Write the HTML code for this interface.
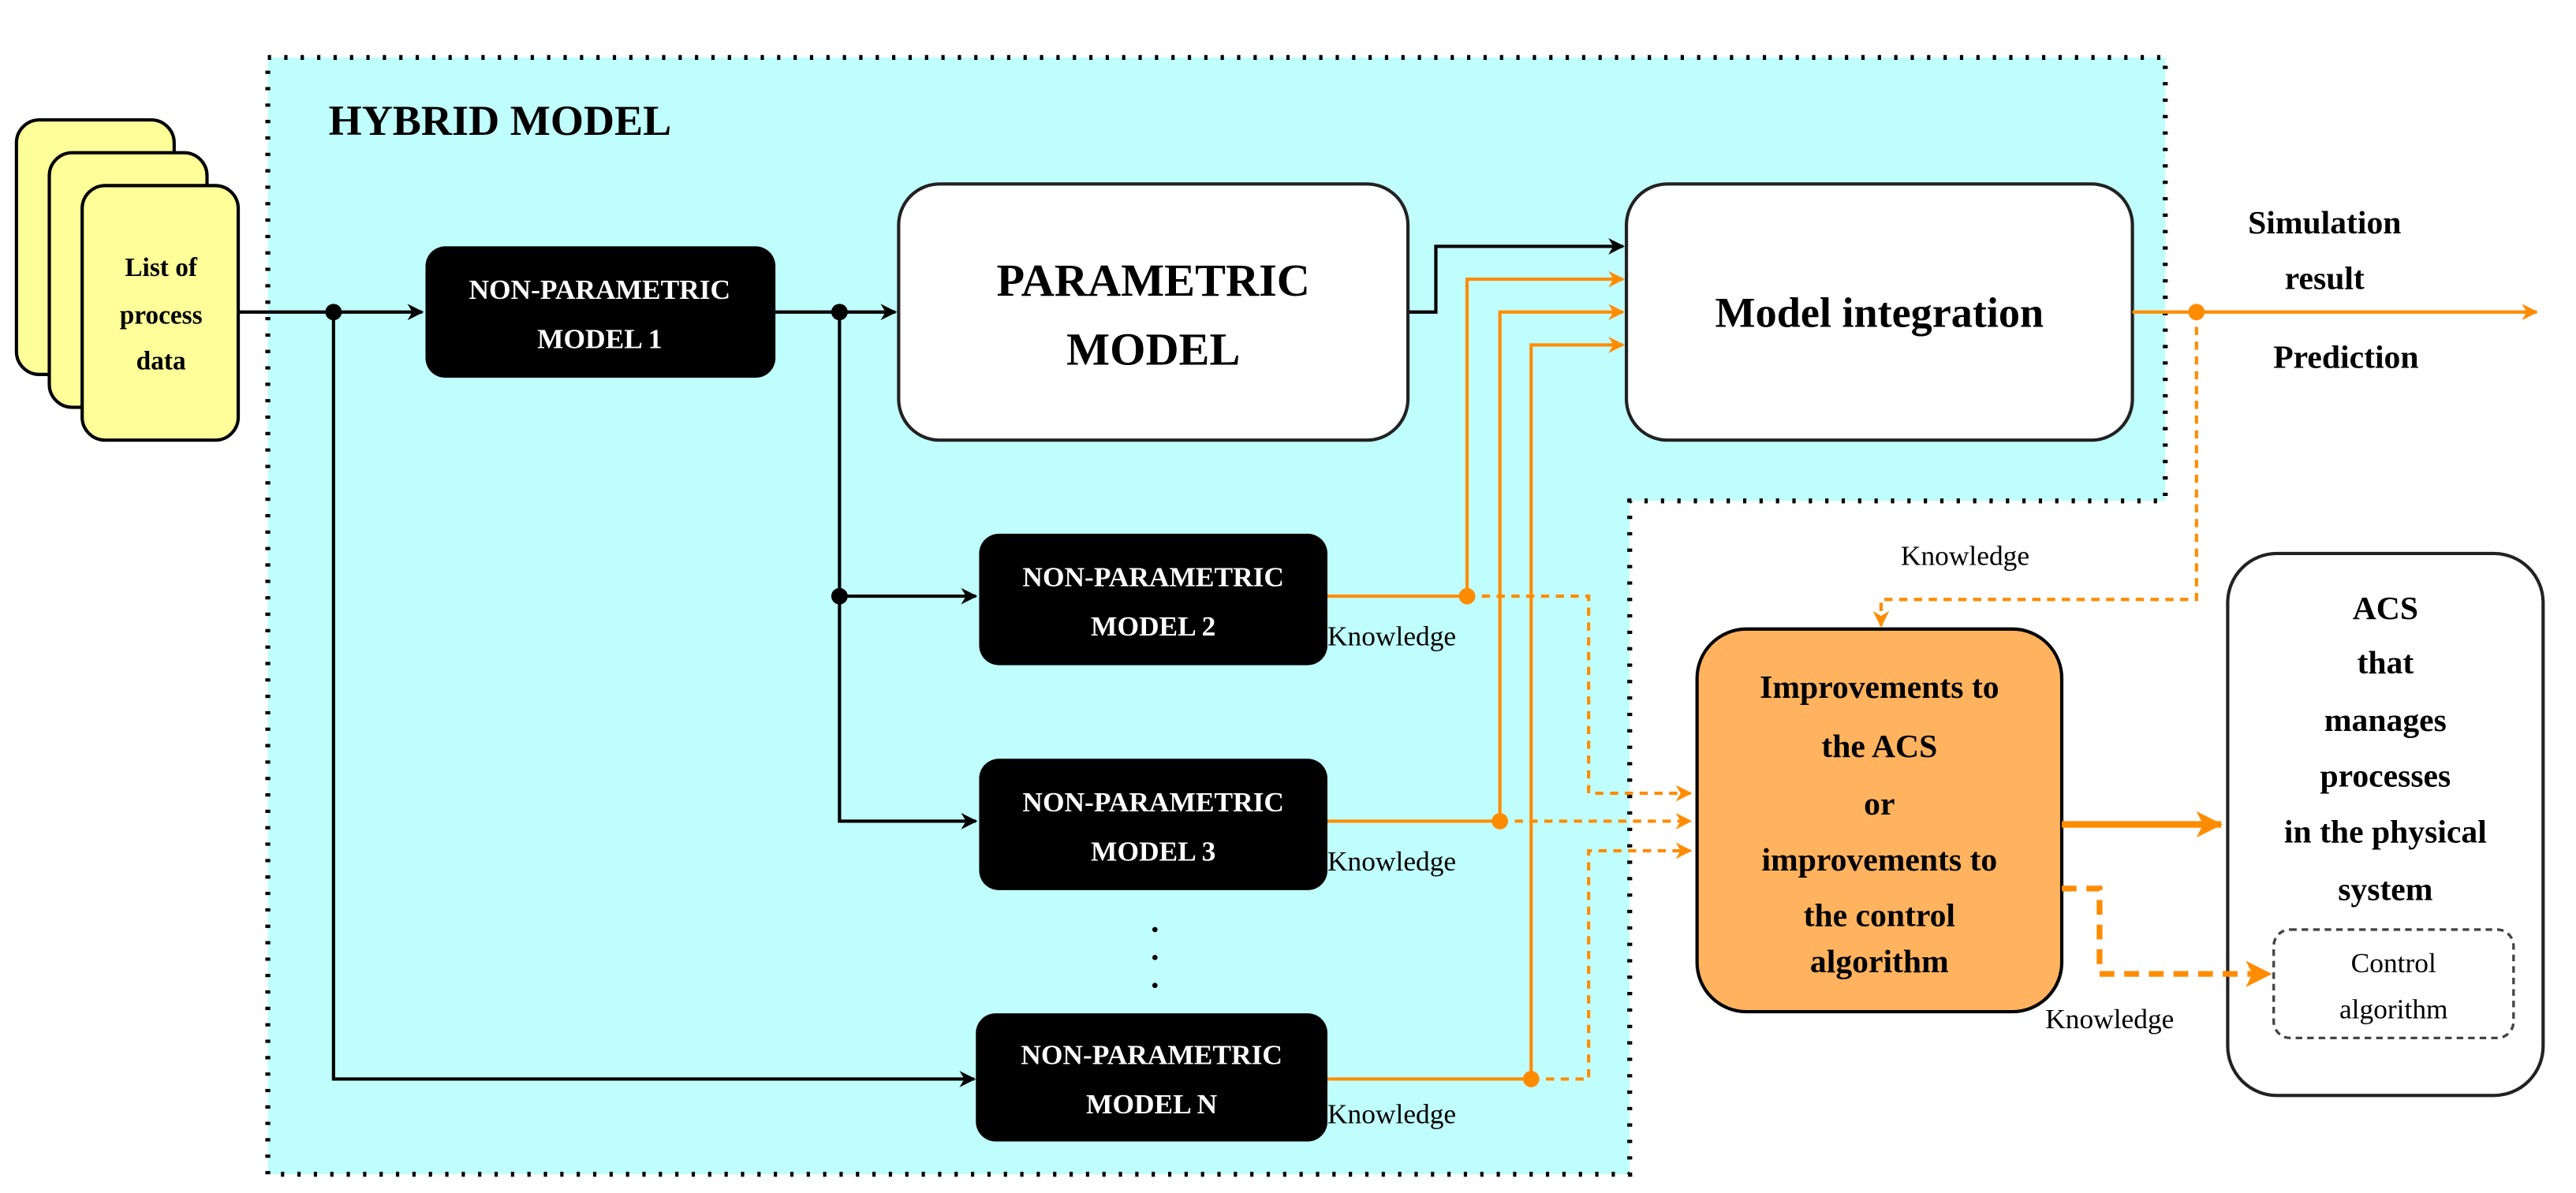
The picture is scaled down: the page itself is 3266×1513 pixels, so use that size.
<!DOCTYPE html>
<html><head><meta charset="utf-8"><style>
html,body{margin:0;padding:0;background:#fff;}
svg{display:block;}
svg text{font-family:"Liberation Serif","DejaVu Serif Condensed","DejaVu Serif",serif;}
</style></head><body>
<svg width="3266" height="1513" viewBox="0 0 1568 726.4" xmlns="http://www.w3.org/2000/svg">
<defs>
<marker id="ab" markerWidth="10" markerHeight="10" refX="9" refY="5" orient="auto" markerUnits="userSpaceOnUse"><path d="M0,0 L10,5 L0,10 L3,5 z" fill="#000"/></marker>
<marker id="ao" markerWidth="10" markerHeight="10" refX="9" refY="5" orient="auto" markerUnits="userSpaceOnUse"><path d="M0,0 L10,5 L0,10 L3,5 z" fill="#ff8c00"/></marker>
<marker id="aoL" markerWidth="16" markerHeight="16" refX="15" refY="8" orient="auto" markerUnits="userSpaceOnUse"><path d="M0,0 L16,8 L0,16 L4,8 z" fill="#ff8c00"/></marker>
</defs>
<path d="M163,35 H1318 V305 H992 V715 H163 Z" fill="#c0fefe" stroke="#000" stroke-width="3" stroke-dasharray="2,8"/>
<text x="200" y="82" font-size="26" font-weight="bold">HYBRID MODEL</text>
<rect x="10" y="73" width="96" height="155" rx="14" fill="#ffff99" stroke="#000" stroke-width="2"/>
<rect x="30" y="93" width="96" height="155" rx="14" fill="#ffff99" stroke="#000" stroke-width="2"/>
<rect x="50" y="113" width="95" height="155" rx="14" fill="#ffff99" stroke="#000" stroke-width="2"/>
<g font-size="16" font-weight="bold" text-anchor="middle"><text x="98" y="168">List of</text><text x="98" y="197">process</text><text x="98" y="225">data</text></g>
<g stroke="#000" stroke-width="2" fill="none">
<line x1="145" y1="190" x2="257" y2="190" marker-end="url(#ab)"/>
<polyline points="203,190 203,657 593,657" marker-end="url(#ab)"/>
<line x1="472" y1="190" x2="545" y2="190" marker-end="url(#ab)"/>
<polyline points="511,190 511,500 594,500" marker-end="url(#ab)"/>
<line x1="511" y1="363" x2="594" y2="363" marker-end="url(#ab)"/>
<polyline points="857,190 874,190 874,150 988,150" marker-end="url(#ab)"/>
</g>
<g fill="#000"><circle cx="203" cy="190" r="5"/><circle cx="511" cy="190" r="5"/><circle cx="511" cy="363" r="5"/></g>
<g fill="#000">
<rect x="259" y="150" width="213" height="80" rx="12"/>
<rect x="596" y="325" width="212" height="80" rx="12"/>
<rect x="596" y="462" width="212" height="80" rx="12"/>
<rect x="594" y="617" width="214" height="78" rx="12"/>
</g>
<g fill="#fff" font-size="17" font-weight="bold" text-anchor="middle">
<text x="365" y="182">NON-PARAMETRIC</text><text x="365" y="212">MODEL 1</text>
<text x="702" y="357">NON-PARAMETRIC</text><text x="702" y="387">MODEL 2</text>
<text x="702" y="494">NON-PARAMETRIC</text><text x="702" y="524">MODEL 3</text>
<text x="701" y="648">NON-PARAMETRIC</text><text x="701" y="678">MODEL N</text>
</g>
<g fill="#000"><circle cx="703" cy="566" r="1.6"/><circle cx="703" cy="583" r="1.6"/><circle cx="703" cy="600" r="1.6"/></g>
<rect x="547" y="112" width="310" height="156" rx="25" fill="#fff" stroke="#222" stroke-width="2"/>
<g font-size="28" font-weight="bold" text-anchor="middle"><text x="702" y="180">PARAMETRIC</text><text x="702" y="222">MODEL</text></g>
<rect x="990" y="112" width="308" height="156" rx="25" fill="#fff" stroke="#222" stroke-width="2"/>
<text x="1144" y="199" font-size="26" font-weight="bold" text-anchor="middle">Model integration</text>
<rect x="1033" y="383" width="222" height="233" rx="30" fill="#ffb35e" stroke="#000" stroke-width="2"/>
<g font-size="20" font-weight="bold" text-anchor="middle">
<text x="1144" y="425">Improvements to</text><text x="1144" y="461">the ACS</text><text x="1144" y="496">or</text><text x="1144" y="530">improvements to</text><text x="1144" y="564">the control</text><text x="1144" y="592">algorithm</text></g>
<rect x="1356" y="337" width="192" height="330" rx="30" fill="#fff" stroke="#222" stroke-width="2"/>
<g font-size="20" font-weight="bold" text-anchor="middle">
<text x="1452" y="377">ACS</text><text x="1452" y="410">that</text><text x="1452" y="445">manages</text><text x="1452" y="479">processes</text><text x="1452" y="513">in the physical</text><text x="1452" y="548">system</text></g>
<rect x="1384" y="566" width="146" height="66" rx="10" fill="#fff" stroke="#444" stroke-width="1.6" stroke-dasharray="4,3"/>
<g font-size="17" text-anchor="middle"><text x="1457" y="592">Control</text><text x="1457" y="620">algorithm</text></g>
<g stroke="#ff8c00" stroke-width="2" fill="none">
<polyline points="808,363 893,363 893,170 988,170" marker-end="url(#ao)"/>
<polyline points="808,500 913,500 913,190 988,190" marker-end="url(#ao)"/>
<polyline points="808,657 932,657 932,210 988,210" marker-end="url(#ao)"/>
<line x1="1298" y1="190" x2="1544" y2="190" marker-end="url(#ao)"/>
<line x1="1255" y1="502" x2="1352" y2="502" stroke-width="4" marker-end="url(#aoL)"/>
</g>
<g stroke="#ff8c00" stroke-width="2" fill="none" stroke-dasharray="5,4">
<polyline points="893,363 967,363 967,483 1029,483" marker-end="url(#ao)"/>
<line x1="913" y1="500" x2="1029" y2="500" marker-end="url(#ao)"/>
<polyline points="932,657 967,657 967,518 1029,518" marker-end="url(#ao)"/>
<polyline points="1337,190 1337,365 1145,365 1145,381" marker-end="url(#ao)"/>
<polyline points="1255,541 1278,541 1278,593 1382,593" stroke-width="3.5" stroke-dasharray="9,6" marker-end="url(#aoL)"/>
</g>
<g fill="#ff8c00"><circle cx="893" cy="363" r="5"/><circle cx="913" cy="500" r="5"/><circle cx="932" cy="657" r="5"/><circle cx="1337" cy="190" r="5"/></g>
<g font-size="17"><text x="808" y="393">Knowledge</text><text x="808" y="530">Knowledge</text><text x="808" y="684">Knowledge</text><text x="1157" y="344">Knowledge</text><text x="1245" y="626">Knowledge</text></g>
<g font-size="20" font-weight="bold" text-anchor="middle"><text x="1415" y="142">Simulation</text><text x="1415" y="176">result</text><text x="1428" y="224">Prediction</text></g>
</svg>
</body></html>
